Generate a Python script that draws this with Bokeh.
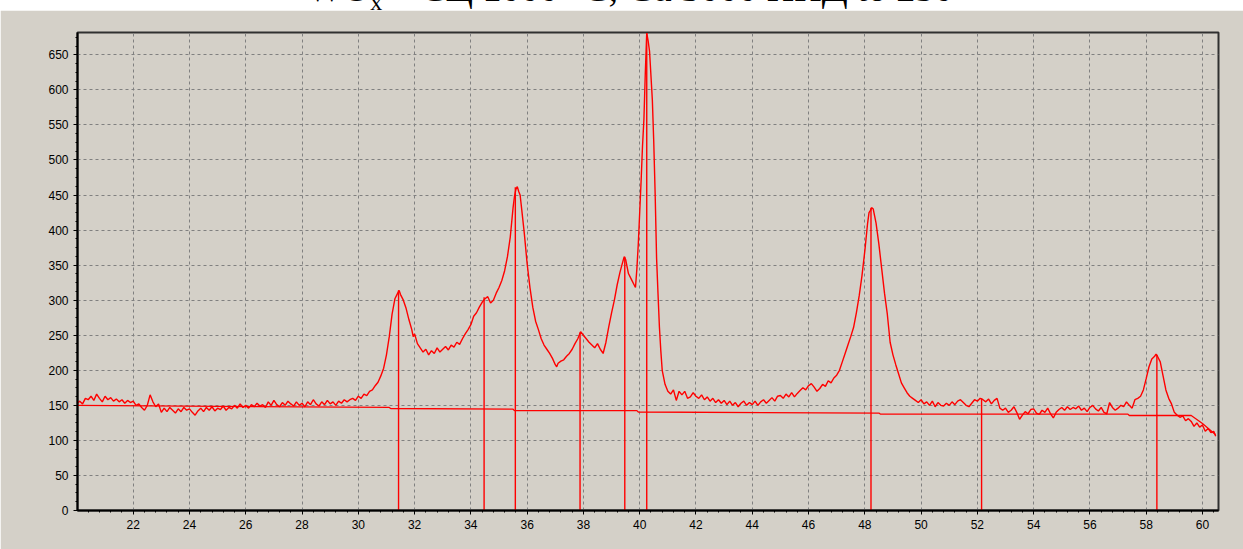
from bokeh.plotting import figure
from bokeh.models import Range1d, SingleIntervalTicker, Div
from bokeh.layouts import column
from bokeh.embed import file_html
from bokeh.resources import INLINE

# ---- data ----
two_theta = [
    20.02, 20.1, 20.2, 20.3, 20.4, 20.5, 20.6, 20.7, 20.8, 20.9,
    21.0, 21.1, 21.2, 21.3, 21.4, 21.5, 21.6, 21.7, 21.8, 21.9,
    22.0, 22.1, 22.2, 22.3, 22.4, 22.5, 22.6, 22.7, 22.8, 22.9,
    23.0, 23.1, 23.2, 23.3, 23.4, 23.5, 23.6, 23.7, 23.8, 23.9,
    24.0, 24.1, 24.2, 24.3, 24.4, 24.5, 24.6, 24.7, 24.8, 24.9,
    25.0, 25.1, 25.2, 25.3, 25.4, 25.5, 25.6, 25.7, 25.8, 25.9,
    26.0, 26.1, 26.2, 26.3, 26.4, 26.5, 26.6, 26.7, 26.8, 26.9,
    27.0, 27.1, 27.2, 27.3, 27.4, 27.5, 27.6, 27.7, 27.8, 27.9,
    28.0, 28.1, 28.2, 28.3, 28.4, 28.5, 28.6, 28.7, 28.8, 28.9,
    29.0, 29.1, 29.2, 29.3, 29.4, 29.5, 29.6, 29.7, 29.8, 29.9,
    30.0, 30.1, 30.2, 30.3, 30.4, 30.5, 30.6, 30.7, 30.8, 30.9,
    31.0, 31.1, 31.2, 31.3, 31.4, 31.45, 31.5, 31.6, 31.7, 31.8, 31.9, 31.95,
    32.0, 32.1, 32.2, 32.3, 32.4, 32.5, 32.6, 32.7, 32.8, 32.9,
    33.0, 33.1, 33.2, 33.3, 33.4, 33.5, 33.6, 33.7, 33.8, 33.9,
    34.0, 34.1, 34.2, 34.3, 34.4, 34.5, 34.6, 34.7, 34.8, 34.9,
    35.0, 35.1, 35.2, 35.3, 35.4, 35.5, 35.55, 35.6, 35.65, 35.7, 35.75, 35.8, 35.9,
    36.0, 36.1, 36.2, 36.3, 36.4, 36.5, 36.6, 36.7, 36.8, 36.9,
    37.0, 37.05, 37.1, 37.2, 37.3, 37.4, 37.5, 37.6, 37.7, 37.8, 37.9,
    38.0, 38.1, 38.2, 38.3, 38.4, 38.5, 38.6, 38.7, 38.8, 38.9,
    39.0, 39.1, 39.2, 39.3, 39.4, 39.45, 39.5, 39.6, 39.7, 39.8, 39.85, 39.9, 39.95,
    40.0, 40.05, 40.1, 40.15, 40.2, 40.25, 40.3, 40.35, 40.4, 40.45, 40.5, 40.55,
    40.6, 40.65, 40.7, 40.75, 40.8, 40.9,
    41.0, 41.1, 41.2, 41.3, 41.4, 41.5, 41.6, 41.7, 41.8, 41.9,
    42.0, 42.1, 42.2, 42.3, 42.4, 42.5, 42.6, 42.7, 42.8, 42.9,
    43.0, 43.1, 43.2, 43.3, 43.4, 43.5, 43.6, 43.7, 43.8, 43.9,
    44.0, 44.1, 44.2, 44.3, 44.4, 44.5, 44.6, 44.7, 44.8, 44.9,
    45.0, 45.1, 45.2, 45.3, 45.4, 45.5, 45.6, 45.7, 45.8, 45.9,
    46.0, 46.1, 46.2, 46.3, 46.4, 46.5, 46.6, 46.7, 46.8, 46.9,
    47.0, 47.1, 47.2, 47.3, 47.4, 47.5, 47.6, 47.7, 47.8, 47.9,
    48.0, 48.1, 48.15, 48.2, 48.25, 48.3, 48.35, 48.4, 48.5, 48.6, 48.7, 48.8, 48.9,
    49.0, 49.1, 49.2, 49.3, 49.4, 49.5, 49.6, 49.7, 49.8, 49.9,
    50.0, 50.1, 50.2, 50.3, 50.4, 50.5, 50.6, 50.7, 50.8, 50.9,
    51.0, 51.1, 51.2, 51.3, 51.4, 51.5, 51.6, 51.7, 51.8, 51.9,
    52.0, 52.1, 52.2, 52.3, 52.4, 52.5, 52.6, 52.7, 52.8, 52.9,
    53.0, 53.1, 53.2, 53.3, 53.4, 53.5, 53.6, 53.7, 53.8, 53.9,
    54.0, 54.1, 54.2, 54.3, 54.4, 54.5, 54.6, 54.7, 54.8, 54.9,
    55.0, 55.1, 55.2, 55.3, 55.4, 55.5, 55.6, 55.7, 55.8, 55.9,
    56.0, 56.1, 56.2, 56.3, 56.4, 56.5, 56.6, 56.7, 56.8, 56.9,
    57.0, 57.1, 57.2, 57.3, 57.4, 57.5, 57.6, 57.7, 57.8, 57.9,
    58.0, 58.1, 58.2, 58.3, 58.35, 58.4, 58.5, 58.6, 58.7, 58.8, 58.9,
    59.0, 59.1, 59.2, 59.3, 59.4, 59.5, 59.6, 59.7, 59.8, 59.9,
    60.0, 60.1, 60.2, 60.3, 60.4, 60.47,
]
intensity = [
    153, 156, 152, 160, 158, 163, 157, 166, 160, 155,
    163, 158, 161, 156, 159, 155, 158, 153, 157, 154,
    156, 150, 152, 147, 143, 150, 165, 155, 148, 152,
    140, 146, 141, 147, 143, 139, 145, 141, 147, 143,
    145, 140, 136, 142, 146, 141, 147, 143, 148, 142,
    146, 144, 149, 143, 147, 145, 150, 146, 152, 147,
    150, 146, 151, 148, 153, 149, 151, 147, 155, 150,
    157, 151, 148, 154, 150, 156, 152, 149, 155, 150,
    153, 148, 155, 151, 158, 152, 149, 155, 151, 157,
    152, 155, 150, 156, 153, 158, 155, 158, 160, 157,
    163, 160, 166, 164, 170, 172, 178, 183, 192, 203,
    222, 248, 280, 302, 310, 314, 308, 300, 288, 272, 258, 248,
    252, 238, 232, 226, 230, 222, 228, 224, 232, 226,
    230, 234, 229, 236, 233, 240, 237, 245, 252, 258,
    265, 277, 282, 290, 297, 302, 305, 296, 300, 310,
    318, 328, 342, 362, 390, 432, 448, 458, 462, 455, 450, 432, 395,
    352, 318, 290, 270, 258, 245, 236, 230, 224, 217,
    208, 205, 210, 213, 215, 220, 224, 230, 238, 245, 255,
    250, 245, 240, 236, 232, 238, 230, 224, 240, 262,
    282, 300, 322, 340, 355, 362, 358, 338, 330, 322, 318, 345, 380,
    425, 470, 520, 558, 625, 681, 670, 655, 620, 585, 525, 450,
    360, 310, 262, 228, 200, 180,
    170, 166, 172, 157, 170, 165, 170, 160, 162, 168,
    163, 160, 165, 158, 162, 156, 160, 154, 158, 153,
    157, 151, 156, 150, 154, 148, 153, 156, 150, 154,
    151, 156, 150, 155, 158, 153, 157, 161, 156, 163,
    164, 160, 166, 162, 168, 162, 167, 171, 175, 172,
    178, 181, 176, 170, 174, 180, 177, 185, 182, 189,
    193, 200, 212, 224, 236, 248, 261, 282, 306, 335,
    370, 410, 425, 428, 432, 430, 420, 410, 380, 345, 310, 280, 240,
    222, 208, 195, 182, 175, 168, 163, 160, 157, 154,
    158, 152, 155, 150, 156, 148, 154, 150, 149, 153,
    150, 155, 151, 156, 158, 154, 150, 148, 153, 158,
    156, 160, 158, 155, 159, 152, 157, 160, 146, 143,
    146, 140, 143, 148, 140, 130, 136, 141, 138, 144,
    145, 139, 137, 143, 140, 146, 138, 132, 140, 144,
    147, 143, 148, 144, 147, 145, 149, 143, 146, 141,
    147, 150, 145, 142, 147, 140, 138, 154, 147, 143,
    146, 150, 148, 155, 150, 146, 158, 160, 163, 172,
    188, 205, 216, 220, 223, 220, 212, 192, 172, 160, 152,
    140, 136, 133, 135, 128, 131, 127, 120, 125, 119,
    122, 113, 117, 111, 113, 106,
]

# background line
bg_theta = [20.02, 31.1, 31.15, 35.5, 35.55, 39.9, 39.95, 48.5, 48.55, 57.35, 57.4, 59.6, 60.0, 60.47]
bg_int = [150, 147, 145.5, 144.5, 142.5, 142.5, 140.5, 139, 137.5, 137.5, 135.5, 135.5, 124, 108]

# identified peaks
peak_theta = [31.43, 34.47, 35.58, 37.88, 39.47, 40.25, 48.22, 52.15, 58.38]
peak_int = [314, 304, 461, 254, 362, 681, 432, 160, 222]
peak_base = [0, 0, 0, 0, 0, 0, 0, 0, 0]

title_html = ('<div style="position:relative; top:-31px; width:1243px; box-sizing:border-box; '
              'padding-left:17px; text-align:center; '
              'font-family:\'Liberation Serif\'; font-size:38px; line-height:38px; white-space:nowrap; color:#000;">'
              'WO<sub style="font-size:24px">x</sub> &ndash; СЦ 1000 °C, Cu 3000 ИНД to 250</div>')

BG = "#d4d0c8"
RED = "#ff0000"

p = figure(width=1243, height=539, output_backend="svg", toolbar_location=None,
           x_range=Range1d(20.02, 60.57), y_range=Range1d(0, 681.8),
           min_border_left=77, min_border_right=25, min_border_top=22, min_border_bottom=39,
           background_fill_color=BG, border_fill_color=BG)

p.outline_line_color = "#303030"
p.outline_line_width = 2

p.line(two_theta, intensity, line_color=RED, line_width=1.4)
p.line(bg_theta, bg_int, line_color=RED, line_width=1.3)
p.segment(x0=peak_theta, y0=peak_base, x1=peak_theta, y1=peak_int, line_color=RED, line_width=1.4)

p.xaxis.ticker = SingleIntervalTicker(interval=2, num_minor_ticks=5)
p.yaxis.ticker = SingleIntervalTicker(interval=50, num_minor_ticks=4)

for ax in (p.xaxis[0], p.yaxis[0]):
    ax.axis_line_color = "#000000"
    ax.axis_line_width = 2
    ax.major_tick_line_color = "#000000"
    ax.minor_tick_line_color = "#000000"
    ax.major_tick_out = 4
    ax.major_tick_in = 0
    ax.minor_tick_out = 2
    ax.minor_tick_in = 0
    ax.major_label_standoff = 5
    ax.major_label_text_font = "Liberation Sans"
    ax.major_label_text_font_size = "12px"
    ax.major_label_text_color = "#000000"

p.xgrid.grid_line_color = "#808080"
p.ygrid.grid_line_color = "#808080"
p.xgrid.grid_line_dash = "3 3"
p.ygrid.grid_line_dash = "3 3"
p.xgrid.grid_line_width = 1
p.ygrid.grid_line_width = 1

title = Div(text=title_html, width=1243, height=10, margin=(0, 0, 0, 0))

layout = column(title, p, spacing=0)

open("out.html", "w").write(file_html(layout, INLINE))
